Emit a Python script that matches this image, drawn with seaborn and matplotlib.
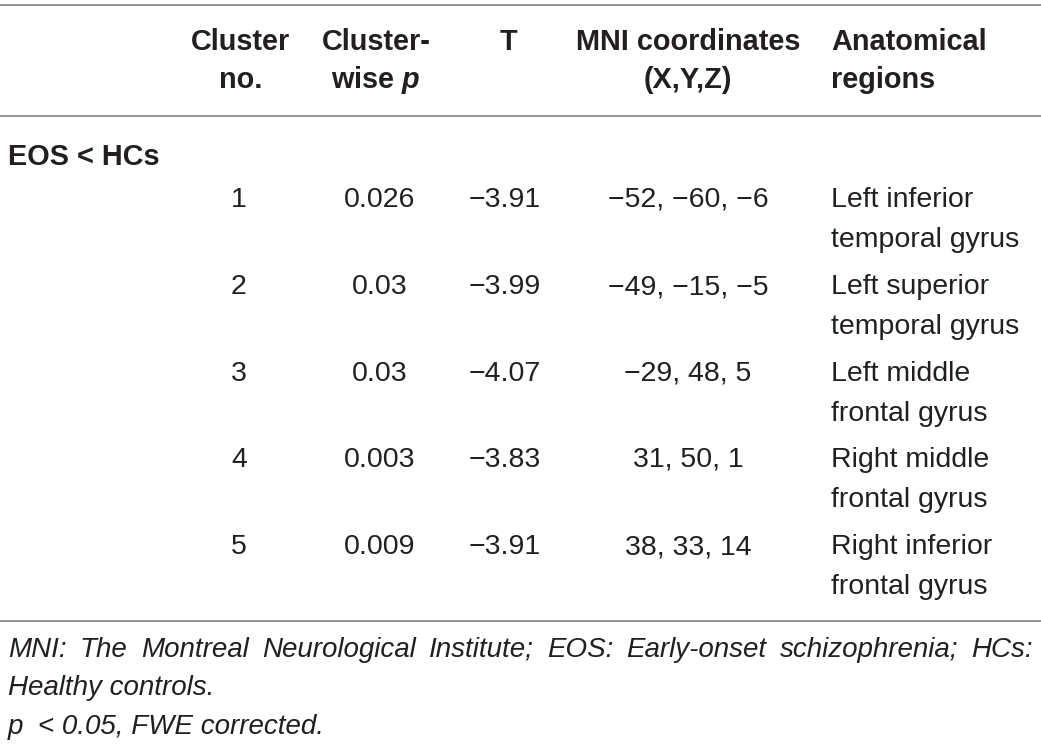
import matplotlib
matplotlib.use("Agg")
import matplotlib.pyplot as plt
import seaborn as sns

# Werte aus der Tabelle
cluster_no = ["1", "2", "3", "4", "5"]
p_values = ["0.026", "0.03", "0.03", "0.003", "0.009"]
t_values = ["\u22123.91", "\u22123.99", "\u22124.07", "\u22123.83", "\u22123.91"]
mni_coords = ["\u221252, \u221260, \u22126", "\u221249, \u221215, \u22125",
              "\u221229, 48, 5", "31, 50, 1", "38, 33, 14"]
regions = [("Left inferior", "temporal gyrus"),
           ("Left superior", "temporal gyrus"),
           ("Left middle", "frontal gyrus"),
           ("Right middle", "frontal gyrus"),
           ("Right inferior", "frontal gyrus")]
group_label = "EOS < HCs"
headers = [("Cluster", "no."), ("Cluster-", "wise $\\boldsymbol{p}$"), ("T", ""),
           ("MNI coordinates", "(X,Y,Z)"), ("Anatomical", "regions")]
footnote1 = "MNI: The Montreal Neurological Institute; EOS: Early-onset schizophrenia; HCs:"
footnote2 = "Healthy controls."
footnote3 = "p  < 0.05, FWE corrected."

sns.set_theme(style="white")
plt.rcParams['font.family'] = ['Liberation Sans', 'DejaVu Sans']
plt.rcParams['mathtext.fontset'] = 'custom'
plt.rcParams['mathtext.bfit'] = 'Liberation Sans:bold:italic'
plt.rcParams['mathtext.bf'] = 'Liberation Sans:bold'

W, H = 1041, 744
fig = plt.figure(figsize=(W / 100, H / 100), dpi=100)
ax = fig.add_axes([0, 0, 1, 1])
ax.set_xlim(0, W)
ax.set_ylim(H, 0)
ax.axis("off")

txt = "#231f20"
fs_head = 20.8
fs = 20.5

# Linien
for y in [5, 116, 621]:
    ax.axhline(y, color="#8a8a8a", lw=1.3)

# Kopfzeile
col_x = [241, 376, 508, 688, 831]
col_ha = ["center", "center", "center", "center", "left"]
for (l1, l2), x, ha in zip(headers, col_x, col_ha):
    ax.text(x, 42, l1, ha=ha, va="center", fontsize=fs_head, fontweight="bold", color=txt)
    if l2:
        ax.text(x, 80, l2, ha=ha, va="center", fontsize=fs_head, fontweight="bold", color=txt)

ax.text(8, 157, group_label, ha="left", va="center", fontsize=fs_head,
        fontweight="bold", color=txt)

# Datenzeilen
row_y = [200, 287, 374, 460, 547]
for i, y in enumerate(row_y):
    ax.text(239, y, cluster_no[i], ha="center", va="center", fontsize=fs, color=txt)
    ax.text(380, y, p_values[i], ha="center", va="center", fontsize=fs, color=txt)
    ax.text(505, y, t_values[i], ha="center", va="center", fontsize=fs, color=txt)
    ax.text(688, y, mni_coords[i], ha="center", va="center", fontsize=fs, color=txt)
    ax.text(831, y, regions[i][0], ha="left", va="center", fontsize=fs, color=txt)
    ax.text(831, y + 40, regions[i][1], ha="left", va="center", fontsize=fs, color=txt)

# Fussnote: erste Zeile im Blocksatz
fn_fs = 20
fig.canvas.draw()
renderer = fig.canvas.get_renderer()
words = footnote1.split(" ")
objs = [ax.text(0, 650, w, ha="left", va="center", fontsize=fn_fs,
                style="italic", color=txt) for w in words]
widths = [o.get_window_extent(renderer).width for o in objs]
left, right = 8, 1033
gap = (right - left - sum(widths)) / (len(words) - 1)
x = left
for o, w in zip(objs, widths):
    o.set_x(x)
    x += w + gap

ax.text(8, 688, footnote2, ha="left", va="center", fontsize=fn_fs, style="italic", color=txt)
ax.text(8, 727, footnote3, ha="left", va="center", fontsize=fn_fs, style="italic", color=txt)

plt.savefig("out.png", dpi=100)
